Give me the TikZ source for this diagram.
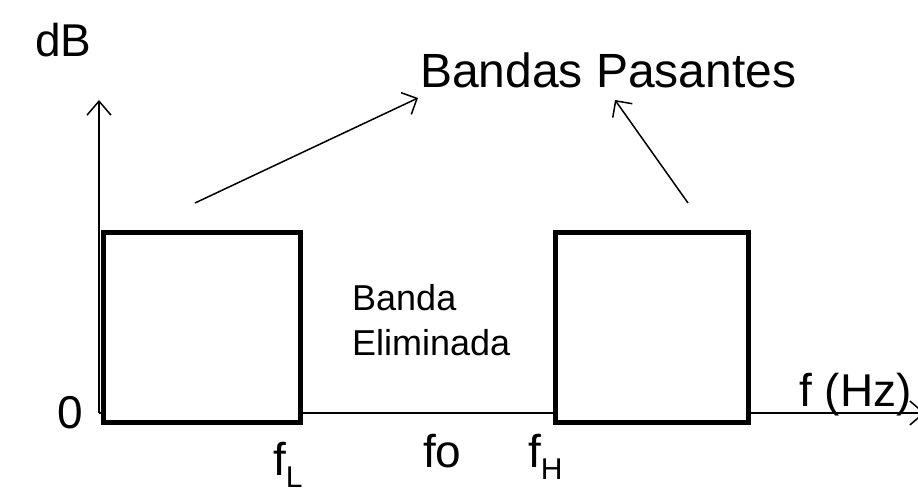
\documentclass[tikz,border=0pt]{standalone}
\usepackage{fontspec}
\setmainfont{Liberation Sans}
\usetikzlibrary{arrows.meta}
\tikzset{
  axis/.style={line width=1.5pt,-{Straight Barb[length=14pt,width=24pt,line width=1.5pt]}},
  band/.style={draw,fill=white,line width=5pt,inner sep=0pt},
  pointer/.style={line width=1.5pt,-{Straight Barb[length=12pt,width=24pt,line width=1.5pt]}},
  big/.style={inner sep=0pt,font=\fontsize{46}{50}\selectfont},
  small/.style={inner sep=0pt,align=left,font=\fontsize{36}{45}\selectfont}
}
\newcommand{\sublbl}[1]{\raisebox{-12pt}{\fontsize{30}{30}\selectfont #1}}
\begin{document}
\begin{tikzpicture}[x=1pt,y=1pt]
  \useasboundingbox (0,0) rectangle (918,494);
  % ejes
  \coordinate (o) at (99,81);
  \coordinate (ytop) at (99,394);
  \coordinate (xend) at (925,81);
  \draw[axis] (o) -- (ytop);
  \draw[axis] (o) -- (xend);
  % bandas pasantes
  \node[band,minimum width=197pt,minimum height=190pt] (pb1) at (201.5,166) {};
  \node[band,minimum width=193pt,minimum height=190pt] (pb2) at (651.5,166) {};
  % textos
  \node[big,anchor=base west] (db) at (35,437) {dB};
  \node[big,anchor=base west] (cero) at (57,65) {0};
  \node[big,anchor=base west] (hz) at (799,87) {f (Hz)};
  \node[big,anchor=base west,font=\fontsize{48}{52}\selectfont] (pas) at (420,406) {Bandas Pasantes};
  \node[small,anchor=north west] (elim) at (352,210) {Banda\\Eliminada};
  \node[big,anchor=base west] (fl) at (273,18) {f\sublbl{L}};
  \node[big,anchor=base west] (fo) at (423,26) {fo};
  \node[big,anchor=base west] (fh) at (528,26) {f\sublbl{H}};
  % flechas
  \coordinate (p1) at (195,291);
  \coordinate (p2) at (688,291);
  \coordinate (t1) at (418,396);
  \coordinate (t2) at (615,394);
  \draw[pointer] (p1) -- (t1);
  \draw[pointer] (p2) -- (t2);
\end{tikzpicture}
\end{document}
